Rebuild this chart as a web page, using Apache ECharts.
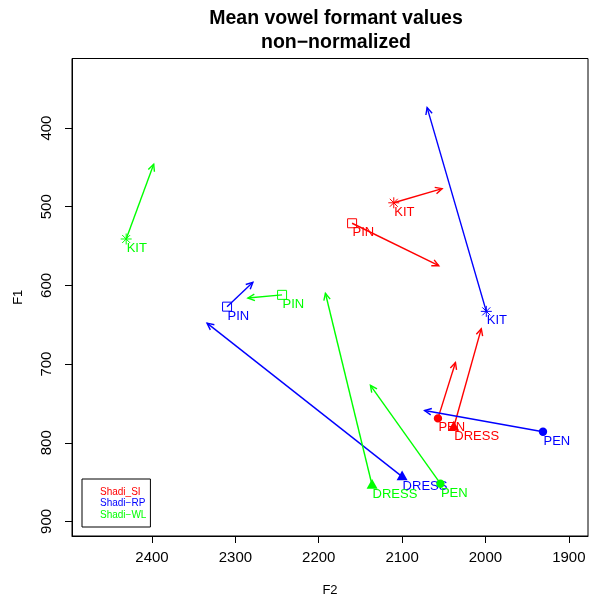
<!DOCTYPE html>
<html><head><meta charset="utf-8">
<script src="https://cdn.jsdelivr.net/npm/echarts@6/dist/echarts.min.js"></script>
<style>html,body{margin:0;padding:0;background:#fff}#c{width:592px;height:600px}</style>
</head><body><div id="c"></div>
<script>
const vowels = ['KIT', 'PIN', 'PEN', 'DRESS'];
const speakers = ['Shadi_SI', 'Shadi\u2212RP', 'Shadi\u2212WL'];
const colors = ['#FF0000', '#0000FF', '#00FF00'];
// vowel means (F2, F1) and arrow targets per speaker
const siF2 = [2110, 2160, 2057, 2038];
const siF1 = [495, 521, 769, 780];
const siF2To = [2052, 2056, 2036, 2005];
const siF1To = [477, 575, 698, 655];
const rpF2 = [1999, 2310, 1931, 2100];
const rpF1 = [633, 627, 786, 843];
const rpF2To = [2070, 2279, 2073, 2334];
const rpF1To = [374, 596, 759, 648];
const wlF2 = [2431, 2244, 2054, 2136];
const wlF1 = [541, 612, 852, 854];
const wlF2To = [2398, 2285, 2138, 2192];
const wlF1To = [446, 616, 727, 610];
const xTicks = [1900, 2000, 2100, 2200, 2300, 2400];
const yTicks = [400, 500, 600, 700, 800, 900];

const FONT = '"Liberation Sans", Arial, Helvetica, sans-serif';

function makeSeries(si, f2, f1, f2To, f1To) {
  const data = vowels.map((v, i) => [f2[i], f1[i], f2To[i], f1To[i], i]);
  return {
    type: 'custom',
    name: speakers[si],
    coordinateSystem: 'cartesian2d',
    encode: { x: [0, 2], y: [1, 3] },
    data: data,
    silent: true,
    renderItem: function (params, api) {
      const p0 = api.coord([api.value(0), api.value(1)]);
      const p1 = api.coord([api.value(2), api.value(3)]);
      const k = api.value(4);
      const c = colors[si];
      const x = p0[0], y = p0[1];
      const ch = [];
      // marker
      if (k === 0) {
        const r = 5.5, d = 4;
        ch.push({ type: 'line', shape: { x1: x - r, y1: y, x2: x + r, y2: y }, style: { stroke: c, lineWidth: 1 } });
        ch.push({ type: 'line', shape: { x1: x, y1: y - r, x2: x, y2: y + r }, style: { stroke: c, lineWidth: 1 } });
        ch.push({ type: 'line', shape: { x1: x - d, y1: y - d, x2: x + d, y2: y + d }, style: { stroke: c, lineWidth: 1 } });
        ch.push({ type: 'line', shape: { x1: x - d, y1: y + d, x2: x + d, y2: y - d }, style: { stroke: c, lineWidth: 1 } });
      } else if (k === 1) {
        ch.push({ type: 'rect', shape: { x: x - 4.5, y: y - 4.5, width: 9, height: 9 }, style: { fill: null, stroke: c, lineWidth: 1 } });
      } else if (k === 2) {
        ch.push({ type: 'circle', shape: { cx: x, cy: y, r: 4.2 }, style: { fill: c } });
      } else {
        ch.push({ type: 'polygon', shape: { points: [[x, y - 6.2], [x - 5.5, y + 3.6], [x + 5.5, y + 3.6]] }, style: { fill: c } });
      }
      // label
      ch.push({ type: 'text', x: x + 0.5, y: y + 3, style: { text: vowels[k], fill: c, fontSize: 13, fontFamily: FONT, align: 'left', verticalAlign: 'top' } });
      // arrow
      ch.push({ type: 'line', shape: { x1: x, y1: y, x2: p1[0], y2: p1[1] }, style: { stroke: c, lineWidth: 1.4 } });
      const ang = Math.atan2(p1[1] - y, p1[0] - x);
      const L = 7.5, a = Math.PI / 7;
      ch.push({ type: 'polyline', shape: { points: [
        [p1[0] - L * Math.cos(ang - a), p1[1] - L * Math.sin(ang - a)],
        [p1[0], p1[1]],
        [p1[0] - L * Math.cos(ang + a), p1[1] - L * Math.sin(ang + a)]
      ] }, style: { stroke: c, fill: null, lineWidth: 1.4 } });
      return { type: 'group', children: ch };
    }
  };
}

const chart = echarts.init(document.getElementById('c'), null, { renderer: 'canvas' });
chart.setOption({
  animation: false,
  backgroundColor: '#fff',
  color: colors,
  title: {
    text: 'Mean vowel formant values\nnon\u2212normalized',
    left: 331, top: 2, textAlign: 'center',
    textStyle: { fontSize: 19.5, fontWeight: 'bold', lineHeight: 24, color: '#000', fontFamily: FONT }
  },
  legend: {
    orient: 'vertical', left: 82, top: 479,
    itemWidth: 0, itemHeight: 0, itemGap: 1.5,
    padding: [8, 4, 7, 13],
    borderColor: '#000', borderWidth: 1, borderRadius: 0, backgroundColor: '#fff',
    selectedMode: false,
    textStyle: { fontSize: 10, fontFamily: FONT },
    data: speakers.map((n, i) => ({ name: n, textStyle: { color: colors[i] } }))
  },
  grid: { left: 72, right: 4, top: 58.5, bottom: 64, show: true, borderColor: '#000', borderWidth: 1, backgroundColor: 'transparent', outerBoundsMode: 'none' },
  xAxis: {
    type: 'value', inverse: true, min: 1877, max: 2496,
    name: 'F2', nameLocation: 'middle', nameGap: 48,
    nameTextStyle: { fontSize: 13, color: '#000', fontFamily: FONT },
    axisLine: { show: true, lineStyle: { color: '#000', width: 1 } },
    axisTick: { show: true, length: 7, lineStyle: { color: '#000' }, customValues: xTicks },
    axisLabel: { fontSize: 15, color: '#000', margin: 14, fontFamily: FONT, customValues: xTicks, formatter: v => String(v) },
    splitLine: { show: false }
  },
  yAxis: {
    type: 'value', inverse: true, min: 311.6, max: 918.5,
    name: 'F1', nameLocation: 'middle', nameGap: 47, nameRotate: 90,
    nameTextStyle: { fontSize: 13, color: '#000', fontFamily: FONT },
    axisLine: { show: true, lineStyle: { color: '#000', width: 1 } },
    axisTick: { show: true, length: 7, lineStyle: { color: '#000' }, customValues: yTicks },
    axisLabel: { fontSize: 15, color: '#000', margin: 18, rotate: 90, fontFamily: FONT, customValues: yTicks, formatter: v => String(v) },
    splitLine: { show: false }
  },
  series: [
    makeSeries(0, siF2, siF1, siF2To, siF1To),
    makeSeries(1, rpF2, rpF1, rpF2To, rpF1To),
    makeSeries(2, wlF2, wlF1, wlF2To, wlF1To)
  ]
});
</script>
</body></html>
